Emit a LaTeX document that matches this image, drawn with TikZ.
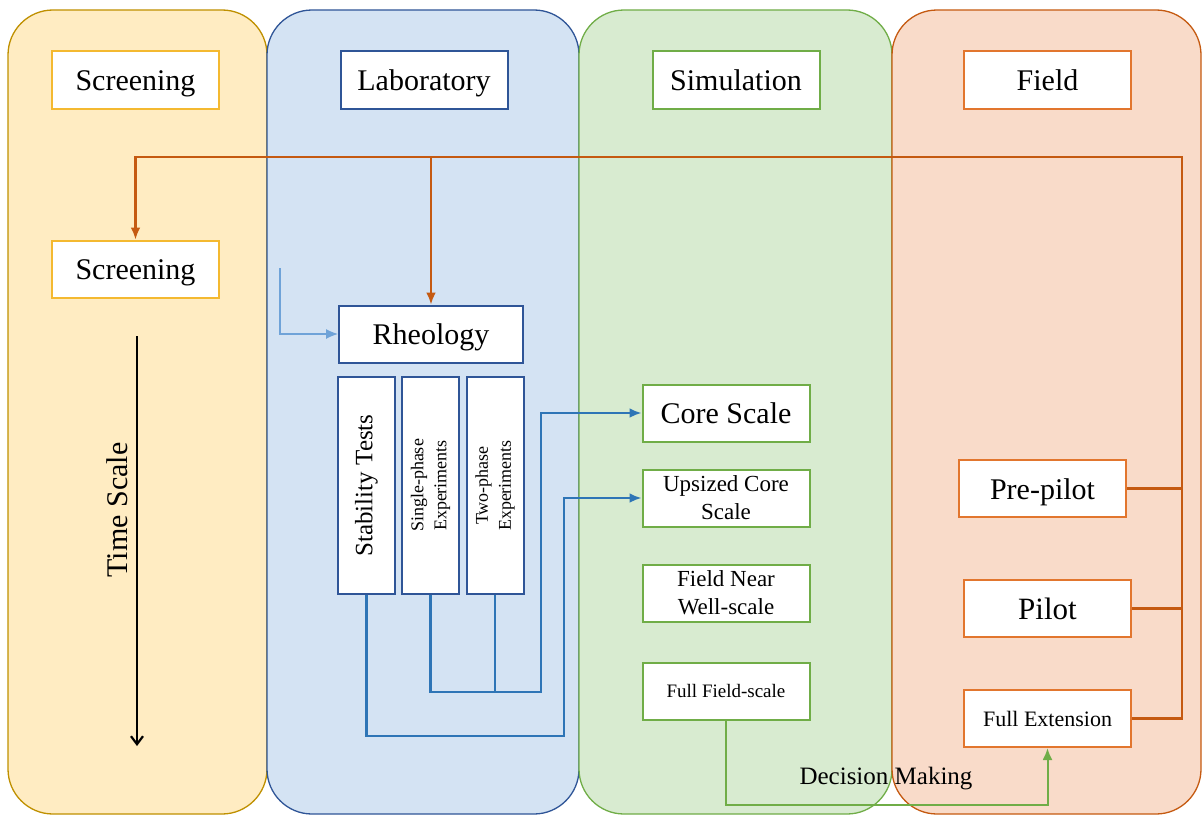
\documentclass[tikz,border=0pt]{standalone}
\usepackage{fontspec}
\setmainfont{Liberation Serif}
\usetikzlibrary{arrows.meta}

\definecolor{ylwfill}{HTML}{FFECC2}
\definecolor{ylwedge}{HTML}{BF9000}
\definecolor{ylwbox}{HTML}{F4B930}
\definecolor{bluefill}{HTML}{D4E3F3}
\definecolor{blueedge}{HTML}{2F5597}
\definecolor{bluelink}{HTML}{2E75B6}
\definecolor{bluethin}{HTML}{6FA3D8}
\definecolor{grnfill}{HTML}{D8EBD0}
\definecolor{grnedge}{HTML}{70AD47}
\definecolor{orgfill}{HTML}{F9DBC9}
\definecolor{orgedge}{HTML}{C55A11}
\definecolor{orgbox}{HTML}{E2762E}

\tikzset{
  lane/.style={rounded corners=45pt, line width=1.3pt},
  box/.style={draw, fill=white, line width=2pt, inner sep=0pt,
    minimum width=167pt, minimum height=57pt, align=center,
    font=\fontsize{30}{32}\selectfont, text height=21pt, text depth=0pt},
  smallbox/.style={box, font=\fontsize{23}{28}\selectfont,
    text height=, text depth=},
  tallbox/.style={draw=blueedge, fill=white, line width=2pt, inner sep=0pt,
    minimum width=57pt, minimum height=217pt},
  orgline/.style={draw=orgedge, line width=2.8pt},
  blueline/.style={draw=bluelink, line width=2.4pt},
  grnline/.style={draw=grnedge, line width=2pt},
}

\begin{document}
\begin{tikzpicture}[x=1pt, y=-1pt, >={Latex[length=12pt,width=10pt]}]
  \useasboundingbox (0,0) rectangle (1204,816);
  % lanes
  \draw[lane, draw=ylwedge, fill=ylwfill] (8,10) rectangle (267,814);
  \draw[lane, draw=blueedge, fill=bluefill] (267,10) rectangle (579,814);
  \draw[lane, draw=grnedge, fill=grnfill] (579,10) rectangle (892,814);
  \draw[lane, draw=orgedge, fill=orgfill] (892,10) rectangle (1201,814);

  % Nodes
  % lane headers
  \node[box, draw=ylwbox] (H1) at (135.5,80) {Screening};
  \node[box, draw=blueedge] (H2) at (424,80) {Laboratory};
  \node[box, draw=grnedge] (H3) at (736,80) {Simulation};
  \node[box, draw=orgbox] (H4) at (1047.5,80) {Field};

  % screening and laboratory
  \node[box, draw=ylwbox] (Scr) at (135.5,269) {Screening};
  \node[box, draw=blueedge, minimum width=184pt] (Rheo) at (431,334) {Rheology};
  \node[tallbox] (Stab) at (366.5,485.5) {};
  \node[tallbox] (Sgl) at (430.5,485.5) {};
  \node[tallbox] (Two) at (495,485.5) {};
  \node[rotate=90, font=\fontsize{25}{28}\selectfont] at (Stab) {Stability Tests};
  \node[rotate=90, align=center, font=\fontsize{18}{23}\selectfont] at (Sgl) {Single-phase\\Experiments};
  \node[rotate=90, align=center, font=\fontsize{18}{23}\selectfont] at (Two) {Two-phase\\Experiments};

  % simulation
  \node[box, draw=grnedge] (Core) at (726,413) {Core Scale};
  \node[smallbox, draw=grnedge] (Ups) at (726,498) {Upsized Core\\Scale};
  \node[smallbox, draw=grnedge] (Near) at (726,593) {Field Near\\Well-scale};
  \node[box, draw=grnedge, font=\fontsize{19}{22}\selectfont, text height=13pt] (Full) at (726,691) {Full Field-scale};

  % field
  \node[box, draw=orgbox] (Pre) at (1042.5,488.5) {Pre-pilot};
  \node[box, draw=orgbox, font=\fontsize{31}{33}\selectfont] (Pil) at (1047.5,608.5) {Pilot};
  \node[box, draw=orgbox, font=\fontsize{22}{24}\selectfont, text height=15pt] (Ext) at (1047.5,718.5) {Full Extension};

  \node[font=\fontsize{25}{28}\selectfont] (DM) at (886,779) {Decision Making};
  \node[rotate=90, font=\fontsize{30}{32}\selectfont] (TS) at (117,510) {Time Scale};

  % helper points
  \coordinate (TR) at (1182,157);
  \coordinate (In) at (280,268);
  \coordinate (J1) at (541,692);
  \coordinate (J2) at (564,736);
  \coordinate (T1) at (137,336);
  \coordinate (T2) at (137,746);

  % edges
  \draw[orgline, ->] (Ext.east) -| (TR) -| (Scr.north);
  \draw[orgline] (Pre.east) -- (Pre.east -| TR);
  \draw[orgline] (Pil.east) -- (Pil.east -| TR);
  \draw[orgline, ->] (Rheo.north |- TR) -- (Rheo.north);

  \draw[draw=bluethin, line width=1.2pt, ->] (In) |- (Rheo.west);
  \draw[blueline, ->] (Sgl.south) |- (J1) |- (Core.west);
  \draw[blueline] (Two.south) -- (Two.south |- J1);
  \draw[blueline, ->] (Stab.south) |- (J2) |- (Ups.west);

  \draw[grnline, ->] (Full.south) -- ++(0,84) -| (Ext.south);

  \draw[line width=2.2pt, -{Straight Barb[length=8pt,width=12pt]}] (T1) -- (T2);
\end{tikzpicture}
\end{document}
